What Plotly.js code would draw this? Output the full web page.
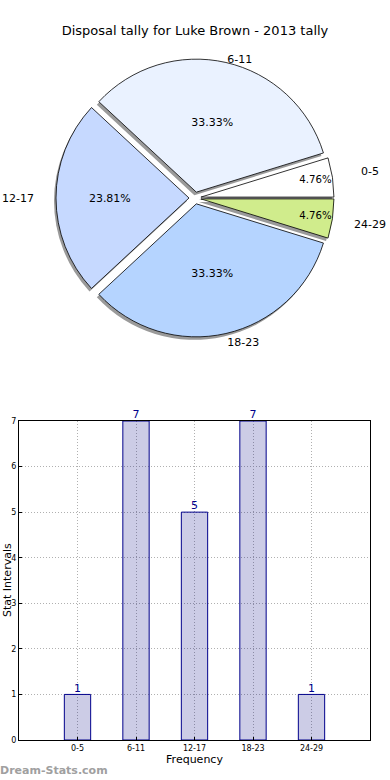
<!DOCTYPE html>
<html><head><meta charset="utf-8">
<script src="https://cdn.plot.ly/plotly-3.0.1.min.js"></script>
<style>html,body{margin:0;padding:0;background:#fff}#chart{width:390px;height:780px}</style>
</head><body><div id="chart"></div>
<script>
const categories = ['0-5','6-11','12-17','18-23','24-29'];
const counts = [1,7,5,7,1];
const sliceColors = ['#ffffff','#eaf2ff','#c6d9ff','#b5d4ff','#d0ec8c'];
const yTicks = [0,1,2,3,4,5,6,7];

const FONT = 'DejaVu Sans, sans-serif';
const cx = 0.5, cy = 1 - 198/780, R = 139, PULL = 0.045;
const dx = R/390, dy = R/780;
const sx = -2/390, sy = -3/780;
const total = counts.reduce((a,b)=>a+b,0);
const rot = 90 - 360*counts[0]/total;
const Rp = R/(1+PULL);

// which labels sit on the left/right side of the pie
const side = categories.map((c,i)=> Math.abs(Math.cos(Math.PI/180*(360*(counts.slice(0,i).reduce((a,b)=>a+b,0)+counts[i]/2)/total))) > 0.6);

// transparent ring carrying the side category labels
const RL = 1.46*Rp;
const ringFar = {
  type:'pie', labels:categories, values:counts, sort:false,
  direction:'counterclockwise', rotation:rot, hole:1.2/1.46,
  marker:{colors:categories.map(()=> 'rgba(0,0,0,0)'), line:{width:0}},
  text:categories.map((c,i)=> side[i] ? c : ''), textinfo:'text',
  textposition:'inside', insidetextorientation:'horizontal',
  textfont:{family:FONT,size:11,color:'#000'},
  domain:{x:[cx-RL/390, cx+RL/390], y:[cy-RL/780, cy+RL/780]},
  hoverinfo:'skip', showlegend:false
};
// shadow pie, also carrying the top/bottom labels outside
const shadow = {
  type:'pie', labels:categories, values:counts, sort:false,
  direction:'counterclockwise', rotation:rot, pull:PULL,
  marker:{colors:categories.map(()=> '#9a9a9a'), line:{width:0}},
  text:categories.map((c,i)=> side[i] ? '' : c), textinfo:'text', textposition:'outside',
  textfont:{family:FONT,size:11,color:'#000'},
  domain:{x:[cx-dx+sx, cx+dx+sx], y:[cy-dy+sy, cy+dy+sy]},
  hoverinfo:'skip', showlegend:false
};
const pie = {
  type:'pie', labels:categories, values:counts, sort:false,
  direction:'counterclockwise', rotation:rot, pull:PULL,
  marker:{colors:sliceColors, line:{color:'#000', width:0.8}},
  texttemplate:'%{percent:.2%}', textposition:'inside', insidetextorientation:'horizontal',
  textfont:{family:FONT,size:11,color:'#000'},
  domain:{x:[cx-dx, cx+dx], y:[cy-dy, cy+dy]},
  showlegend:false
};
const bars = {
  type:'bar', x:categories, y:counts, width:0.45,
  marker:{color:'rgba(0,0,128,0.2)', line:{color:'#00008b', width:1}},
  xaxis:'x', yaxis:'y', showlegend:false
};
const barText = {
  type:'scatter', mode:'text', x:categories, y:counts,
  text:counts.map(String), textposition:'top center',
  textfont:{family:FONT,size:11,color:'#00008b'},
  cliponaxis:false, xaxis:'x', yaxis:'y', showlegend:false, hoverinfo:'skip'
};

const layout = {
  width:390, height:780, margin:{l:0,r:0,t:0,b:0},
  paper_bgcolor:'#fff', plot_bgcolor:'#fff',
  font:{family:FONT, color:'#000'},
  title:{text:'Disposal tally for Luke Brown - 2013 tally', font:{family:FONT,size:13}, x:0.5, xanchor:'center', y:1-30/780, yanchor:'middle'},
  xaxis:{domain:[19/390, 370/390], type:'category', range:[-1,5],
    showline:true, linecolor:'#000', linewidth:1, mirror:true,
    showgrid:true, gridcolor:'#b0b0b0', griddash:'1px,2px', gridwidth:1,
    ticks:'inside', ticklen:3, tickcolor:'#000', tickfont:{size:8},
    title:{text:'Frequency', font:{size:11}, standoff:2}, fixedrange:true},
  yaxis:{domain:[40/780, 1-421/780], range:[0,7], tickvals:yTicks,
    showline:true, linecolor:'#000', linewidth:1, mirror:true,
    showgrid:true, gridcolor:'#b0b0b0', griddash:'1px,2px', gridwidth:1,
    ticks:'inside', ticklen:3, tickcolor:'#000', tickfont:{size:8}, zeroline:false, fixedrange:true},
  annotations:[
    {text:'Stat Intervals', xref:'paper', yref:'paper', x:7/390, y:1-580/780, textangle:-90, showarrow:false, font:{size:11}, xanchor:'center', yanchor:'middle'},
    {text:'<b>Dream-Stats.com</b>', xref:'paper', yref:'paper', x:-2/390, y:1-770/780, showarrow:false, font:{size:11,color:'#a0a0a0'}, xanchor:'left', yanchor:'middle'}
  ]
};
Plotly.newPlot('chart',[ringFar,shadow,pie,bars,barText],layout,{displayModeBar:false,staticPlot:true});
</script></body></html>
